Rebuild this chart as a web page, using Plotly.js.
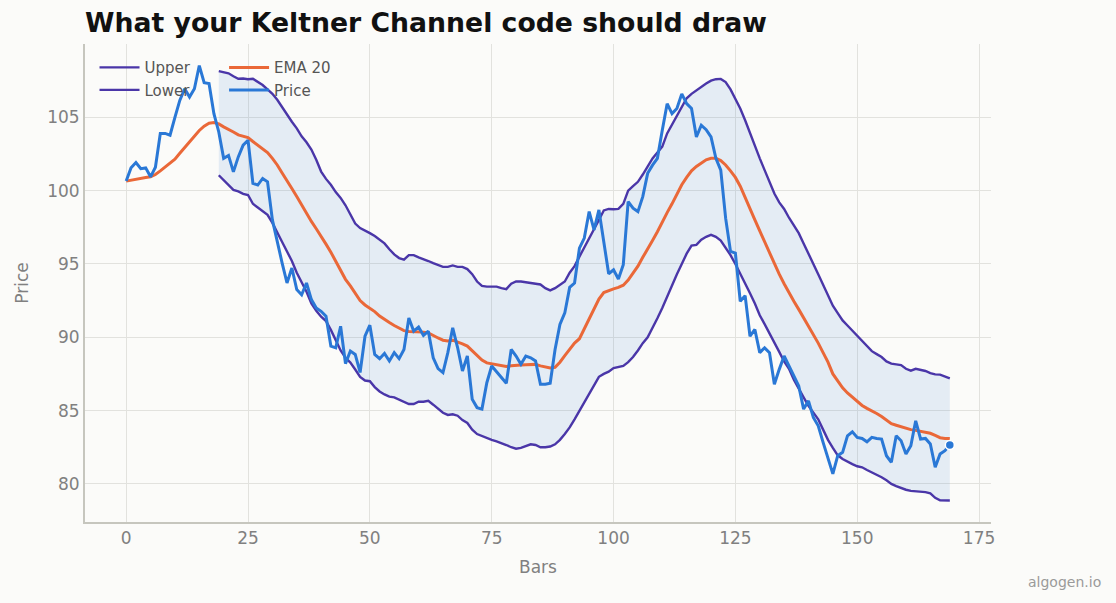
<!DOCTYPE html>
<html>
<head>
<meta charset="utf-8">
<script src="https://cdn.plot.ly/plotly-3.0.1.min.js"></script>
<style>html,body{margin:0;padding:0;background:#fbfbf9;}</style>
</head>
<body>
<div id="chart" style="width:1116px;height:603px;"></div>
<script>
const price = [100.65,101.56,101.92,101.5,101.55,100.94,101.6,103.9,103.9,103.78,
105.0,106.15,106.95,106.38,106.95,108.53,107.36,107.3,105.25,104.0,
102.2,102.4,101.28,102.3,103.1,103.44,100.5,100.38,100.83,100.6,
98.0,96.42,95.06,93.7,94.72,93.25,92.9,93.7,92.57,92.0,
91.77,91.43,89.4,89.28,90.75,88.2,89.06,88.83,87.6,90.07,
90.82,88.83,88.54,88.9,88.38,88.95,88.54,89.17,91.32,90.41,
90.7,90.12,90.41,88.6,87.86,87.59,88.95,90.64,89.3,87.7,
88.72,85.77,85.2,85.1,86.9,88.04,87.63,87.2,86.86,89.17,
88.72,88.15,88.72,88.6,88.38,86.79,86.79,86.86,89.17,90.87,
91.66,93.4,93.7,96.08,96.76,98.57,97.32,98.68,96.42,94.33,
94.6,93.97,94.95,99.25,98.8,98.57,99.59,101.18,101.74,102.2,
104.12,105.93,105.25,105.6,106.6,105.93,105.6,103.66,104.46,104.16,
103.66,102.2,101.4,98.12,95.85,95.74,92.45,92.84,90.07,90.53,
88.95,89.28,88.95,86.79,87.81,88.72,88.04,87.36,86.68,85.1,
85.66,84.53,83.96,82.83,81.7,80.68,81.92,82.15,83.28,83.55,
83.17,83.1,82.87,83.17,83.1,83.06,81.92,81.47,83.28,82.94,
82.04,82.6,84.3,83.06,83.1,82.72,81.13,82.04,82.26,82.65];

const ema20 = [100.65,100.72,100.8,100.85,100.9,100.95,101.1,101.35,101.6,101.85,
102.15,102.55,102.95,103.3,103.7,104.1,104.4,104.6,104.65,104.55,
104.35,104.2,104.0,103.8,103.7,103.62,103.35,103.1,102.85,102.6,
102.2,101.75,101.2,100.7,100.15,99.6,99.0,98.45,97.9,97.4,
96.9,96.35,95.8,95.2,94.6,93.95,93.5,93.0,92.5,92.2,
92.0,91.75,91.45,91.2,91.0,90.8,90.6,90.45,90.4,90.4,
90.4,90.35,90.3,90.1,89.95,89.8,89.75,89.8,89.7,89.55,
89.4,89.1,88.8,88.45,88.25,88.2,88.15,88.1,88.0,88.05,
88.1,88.1,88.12,88.15,88.15,88.05,87.95,87.9,87.95,88.3,
88.75,89.15,89.6,89.9,90.6,91.3,92.0,92.6,93.05,93.2,
93.3,93.4,93.55,93.9,94.4,94.85,95.45,96.0,96.6,97.2,
97.9,98.5,99.1,99.8,100.4,100.9,101.35,101.65,101.9,102.1,
102.2,102.2,102.05,101.75,101.35,100.9,100.3,99.5,98.75,98.0,
97.25,96.5,95.7,94.95,94.3,93.65,93.0,92.45,91.9,91.35,
90.8,90.2,89.6,88.95,88.3,87.5,87.0,86.55,86.2,85.9,
85.6,85.35,85.15,85.0,84.8,84.6,84.35,84.1,84.0,83.9,
83.75,83.7,83.65,83.6,83.55,83.45,83.3,83.15,83.1,83.1];

const bandStart = 19;
const upper = [108.15,108.1,108.0,107.8,107.63,107.65,107.6,107.63,107.4,107.2,
106.9,106.6,106.2,105.7,105.14,104.7,104.25,103.7,103.3,102.8,
102.1,101.3,100.8,100.4,99.9,99.5,99.0,98.35,97.75,97.45,
97.3,97.1,96.9,96.65,96.4,96.0,95.65,95.4,95.3,95.6,
95.6,95.45,95.35,95.2,95.05,94.95,94.8,94.8,94.9,94.8,
94.8,94.65,94.3,93.8,93.5,93.45,93.47,93.45,93.35,93.28,
93.65,93.8,93.8,93.75,93.75,93.7,93.6,93.35,93.2,93.35,
93.55,93.8,94.4,94.85,95.5,96.1,96.7,97.4,98.0,98.65,
98.75,98.73,98.75,99.1,100.0,100.3,100.6,101.1,101.7,102.2,
102.6,103.0,103.9,104.5,105.1,105.7,106.3,106.6,106.85,107.1,
107.3,107.5,107.6,107.62,107.4,106.9,106.3,105.6,104.8,103.9,
103.0,102.2,101.4,100.6,99.8,99.2,98.75,98.15,97.6,97.1,
96.4,95.75,95.0,94.3,93.55,92.8,92.15,91.65,91.15,90.8,
90.45,90.1,89.75,89.4,89.05,88.85,88.65,88.35,88.2,88.15,
88.1,87.85,87.72,87.85,87.8,87.7,87.55,87.47,87.45,87.3,
87.2];
const lower = [101.05,100.7,100.4,100.05,99.95,99.78,99.7,99.1,98.85,98.6,
98.35,97.8,97.2,96.5,95.85,95.2,94.4,93.8,93.1,92.3,
91.8,91.4,91.1,90.5,89.8,89.1,88.6,88.27,87.8,87.3,
87.05,87.0,86.6,86.3,86.1,85.95,85.9,85.75,85.6,85.45,
85.45,85.6,85.6,85.66,85.4,85.1,84.85,84.7,84.75,84.65,
84.35,84.15,83.7,83.4,83.25,83.1,83.0,82.9,82.8,82.65,
82.5,82.4,82.45,82.6,82.7,82.65,82.5,82.5,82.55,82.7,
83.0,83.4,83.85,84.4,85.0,85.6,86.2,86.8,87.3,87.5,
87.65,87.9,87.95,88.05,88.3,88.65,89.1,89.6,90.0,90.6,
91.3,92.0,92.8,93.55,94.3,95.0,95.7,96.25,96.3,96.65,
96.85,96.98,96.85,96.6,96.1,95.6,95.0,94.35,93.75,93.0,
92.3,91.5,90.9,90.3,89.6,89.0,88.35,87.85,87.1,86.45,
85.9,85.32,84.9,84.4,83.7,83.0,82.45,81.95,81.7,81.5,
81.35,81.2,81.13,80.95,80.8,80.65,80.45,80.25,80.0,79.85,
79.72,79.6,79.52,79.5,79.45,79.44,79.35,79.05,78.88,78.87,
78.87];

const xTicks = [0,25,50,75,100,125,150,175];
const yTicks = [80,85,90,95,100,105];

const bars = price.map((_, i) => i);
const bandBars = upper.map((_, i) => i + bandStart);

const FONT = '"DejaVu Sans", sans-serif';
const C_BAND = '#4a36a8';
const C_EMA = '#ea6838';
const C_PRICE = '#2a78d6';

const traces = [
  {
    x: bandBars.concat(bandBars.slice().reverse()),
    y: upper.concat(lower.slice().reverse()),
    type: 'scatter', mode: 'lines', fill: 'toself',
    fillcolor: 'rgba(42,120,214,0.11)', line: {width: 0, color: 'rgba(0,0,0,0)'},
    showlegend: false, hoverinfo: 'skip'
  },
  {x: bandBars, y: upper, name: 'Upper', type: 'scatter', mode: 'lines',
   line: {color: C_BAND, width: 2.4}, legend: 'legend'},
  {x: bandBars, y: lower, name: 'Lower', type: 'scatter', mode: 'lines',
   line: {color: C_BAND, width: 2.4}, legend: 'legend'},
  {x: bars, y: ema20, name: 'EMA 20', type: 'scatter', mode: 'lines',
   line: {color: C_EMA, width: 3}, legend: 'legend2'},
  {x: bars, y: price, name: 'Price', type: 'scatter', mode: 'lines',
   line: {color: C_PRICE, width: 3}, legend: 'legend2'},
  {x: [bars[bars.length - 1]], y: [price[price.length - 1]], type: 'scatter', mode: 'markers',
   marker: {color: C_PRICE, size: 9, line: {color: '#ffffff', width: 1.5}},
   showlegend: false, hoverinfo: 'skip'}
];

const legendCommon = {
  bgcolor: 'rgba(0,0,0,0)', borderwidth: 0,
  font: {family: FONT, size: 15, color: '#555555'},
  orientation: 'v', xanchor: 'left', yanchor: 'top',
  itemwidth: 40, tracegroupgap: 0
};

const layout = {
  width: 1116, height: 603,
  paper_bgcolor: '#fbfbf9', plot_bgcolor: '#fbfbf9',
  margin: {l: 85, r: 125, t: 44, b: 81, pad: 0},
  font: {family: FONT, color: '#7a7a7a'},
  title: {
    text: '<b>What your Keltner Channel code should draw</b>',
    font: {family: FONT, size: 26.7, color: '#111111'},
    x: 85 / 1116, xanchor: 'left', xref: 'container',
    y: 1 - 23 / 603, yanchor: 'middle', yref: 'container'
  },
  xaxis: {
    range: [-8.45, 177.45], tickvals: xTicks, ticktext: xTicks.map(String),
    showgrid: true, gridcolor: '#e2e2de', gridwidth: 1,
    zeroline: false, showline: true, linecolor: '#c6c6be', linewidth: 2,
    ticks: '', tickfont: {family: FONT, size: 17, color: '#808080'},
    title: {text: 'Bars', font: {family: FONT, size: 17, color: '#808080'}, standoff: 14}
  },
  yaxis: {
    range: [77.4, 110.0], tickvals: yTicks, ticktext: yTicks.map(String),
    showgrid: true, gridcolor: '#e2e2de', gridwidth: 1,
    zeroline: false, showline: true, linecolor: '#c6c6be', linewidth: 2,
    ticks: '', tickfont: {family: FONT, size: 17, color: '#808080'},
    title: {text: 'Price', font: {family: FONT, size: 17, color: '#808080'}, standoff: 14}
  },
  legend: Object.assign({}, legendCommon, {x: 0.0105, y: 0.985}),
  legend2: Object.assign({}, legendCommon, {x: 0.1535, y: 0.985}),
  annotations: [{
    text: 'algogen.io', xref: 'paper', yref: 'paper', x: 1 + 112 / 906, y: -60 / 478,
    xanchor: 'right', yanchor: 'middle', showarrow: false,
    font: {family: FONT, size: 14, color: '#9a9a9a'}
  }],
  showlegend: true
};

Plotly.newPlot('chart', traces, layout, {displayModeBar: false, staticPlot: true});
</script>
</body>
</html>
